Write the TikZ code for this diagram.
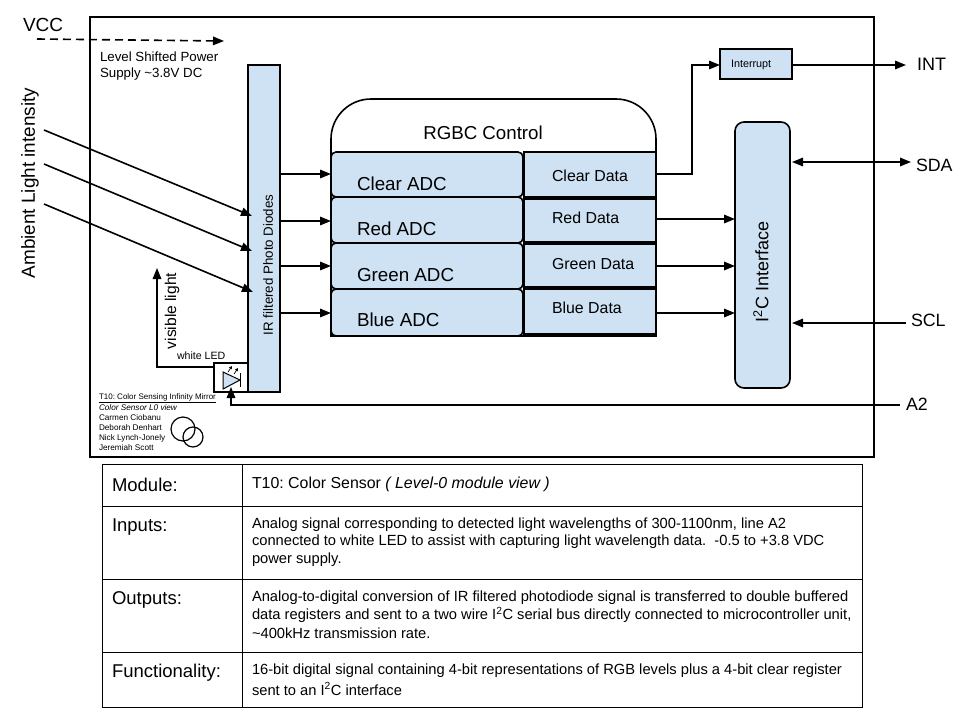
\documentclass[tikz,border=0pt]{standalone}
\usepackage{fontspec}
\setmainfont{Liberation Sans}
\usetikzlibrary{arrows.meta,calc}
\frenchspacing
\newcommand\fsz[1]{\fontsize{#1}{#1}\selectfont}
\definecolor{blk}{HTML}{CFE2F3}
\tikzset{
  x=1pt,y=-1pt,
  >={Triangle[length=11pt,width=8.5pt]},
  every node/.style={inner sep=0pt,outer sep=0pt},
  line/.style={line width=1.6pt,black},
  box/.style={draw=black,line width=1.6pt,fill=blk,anchor=north west},
  rbox/.style={box,rounded corners=5pt},
  cell/.style={draw=black,line width=0.9pt,anchor=north west},
  lab/.style={anchor=west,align=left,text=black},
  tab/.style={lab,font=\fsz{14.7},align=left},
  tabhead/.style={lab,font=\fsz{18.5}}
}
\begin{document}
\begin{tikzpicture}
\useasboundingbox[fill=white] (0,0) rectangle (960,720);
% outer frame
\node[draw=black,line width=1.6pt,anchor=north west,minimum width=784pt,minimum height=440pt] (frame) at (90,17) {};
% RGBC outline
\coordinate (rb) at (331,336);
\draw[line,fill=white] (rb) -- (331,139) arc[start angle=180,end angle=90,radius=40pt] -- (616,99) arc[start angle=90,end angle=0,radius=40pt] -- (656,336) -- cycle;
\node[font=\fsz{18.7}] (rgbc) at (483,133) {RGBC Control};
% ADCs
\node[rbox,minimum width=192pt,minimum height=45pt] (adc1) at (331,152) {};
\node[rbox,minimum width=192pt,minimum height=46pt] (adc2) at (331,197) {};
\node[rbox,minimum width=192pt,minimum height=46pt] (adc3) at (331,243) {};
\node[rbox,minimum width=192pt,minimum height=47pt] (adc4) at (331,289) {};
\node[lab,font=\fsz{18.8}] (t1) at (357,184) {Clear ADC};
\node[lab,font=\fsz{18.8}] (t2) at (357,229) {Red ADC};
\node[lab,font=\fsz{18.8}] (t3) at (357,275) {Green ADC};
\node[lab,font=\fsz{18.8}] (t4) at (357,320) {Blue ADC};
% data
\node[box,minimum width=132pt,minimum height=45pt] (dat1) at (524,152) {};
\node[box,minimum width=132pt,minimum height=43pt] (dat2) at (524,199) {};
\node[box,minimum width=132pt,minimum height=43pt] (dat3) at (524,244) {};
\node[box,minimum width=132pt,minimum height=45pt] (dat4) at (524,289) {};
\node[lab,font=\fsz{15.9}] (d1) at (552,176) {Clear Data};
\node[lab,font=\fsz{15.9}] (d2) at (552,218) {Red Data};
\node[lab,font=\fsz{15.9}] (d3) at (552,264) {Green Data};
\node[lab,font=\fsz{15.9}] (d4) at (552,308) {Blue Data};
% diodes
\node[box,minimum width=32pt,minimum height=327pt] (dio) at (248,65) {};
\node[rotate=90,font=\fsz{13.3}] (diot) at (268,265) {IR filtered Photo Diodes};
% interrupt
\node[box,minimum width=72pt,minimum height=30pt] (int) at (720,49) {};
\node[lab,font=\fsz{10.8}] (intt) at (731,65) {Interrupt};
% I2C
\node[box,rounded corners=9pt,minimum width=55pt,minimum height=266pt] (i2c) at (735,122) {};
\node[rotate=90,font=\fsz{18}] (i2ct) at (761,272) {I\textsuperscript{2}C Interface};
% LED
\node[draw=black,line width=1.6pt,fill=white,anchor=north west,minimum width=34pt,minimum height=29pt] (led) at (214,363) {};
\draw[line width=1pt,fill=blk] (223,372) -- (240,380) -- (223,389) -- cycle;
\draw[line width=1.2pt] (240.5,373) -- (240.5,387);
\draw[line width=0.7pt,-{Triangle[length=3pt,width=3pt]}] (228,372) -- (232,366);
\draw[line width=0.7pt,-{Triangle[length=3pt,width=3pt]}] (234,374) -- (238,368);
% external labels
\node[lab,font=\fsz{19}] (vcc) at (23,25) {VCC};
\node[lab,font=\fsz{18}] (intl) at (917,64) {INT};
\node[lab,font=\fsz{17.8}] (sda) at (916,165) {SDA};
\node[lab,font=\fsz{17.8}] (scl) at (911,320) {SCL};
\node[lab,font=\fsz{17.8}] (a2) at (906,404) {A2};
\node[rotate=90,font=\fsz{18.9}] (amb) at (30,183) {Ambient Light intensity};
\node[lab,font=\fsz{13.3},align=left] (lvl) at (100,66) {Level Shifted Power\\[2pt]Supply \textasciitilde3.8V DC};
\node[rotate=90,font=\fsz{15.6}] (vis) at (172,311) {visible light};
\node[lab,font=\fsz{10.6}] (wled) at (177,356) {white LED};
% credits
\node[lab,font=\fsz{8}] (c1) at (99,398) {\underline{T10: Color Sensing Infinity Mirror}};
\node[lab,font=\fsz{8.2}\itshape] (c2) at (99,408) {Color Sensor L0 view};
\node[lab,font=\fsz{8.2}] (c3) at (99,418) {Carmen Ciobanu};
\node[lab,font=\fsz{8.2}] (c4) at (99,428) {Deborah Denhart};
\node[lab,font=\fsz{8.2}] (c5) at (99,438) {Nick Lynch-Jonely};
\node[lab,font=\fsz{8.2}] (c6) at (99,448) {Jeremiah Scott};
\node[draw=black,line width=1.2pt,circle,minimum size=24pt] (o1) at (183,429) {};
\node[draw=black,line width=1.2pt,circle,minimum size=20pt] (o2) at (193,437) {};
% free ends
\coordinate (vs) at (37,39);
\coordinate (ve) at (224,41);
\coordinate (a1s) at (44,130);
\coordinate (a2s) at (44,164);
\coordinate (a3s) at (44,204);
\coordinate (a1e) at (252,216);
\coordinate (a2e) at (252,251);
\coordinate (a3e) at (253,292);
\coordinate (vise) at (157,268);
\coordinate (intend) at (906,65);
\coordinate (intout) at (792,65);
\coordinate (intin) at (720,65);
\coordinate (sdaend) at (911,162);
\coordinate (sdain) at (792,162);
\coordinate (sclstart) at (906,323);
\coordinate (sclin) at (792,323);
\coordinate (a2start) at (900,405);
\coordinate (int1) at (692,174);
% connectors
\draw[line,dash pattern=on 8pt off 5pt,->] (vs) -- (ve);
\draw[line,->] (a1s) -- (a1e);
\draw[line,->] (a2s) -- (a2e);
\draw[line,->] (a3s) -- (a3e);
\draw[line,->] ([yshift=0.5pt]dio.east |- adc1.west) -- ([yshift=0.5pt]adc1.west);
\draw[line,->] ([yshift=-1pt]dio.east |- adc2.west) -- ([yshift=-1pt]adc2.west);
\draw[line,->] (dio.east |- adc3.west) -- (adc3.west);
\draw[line,->] ([yshift=-0.5pt]dio.east |- adc4.west) -- ([yshift=-0.5pt]adc4.west);
\draw[line,->] (dat1.east |- int1) -- (int1) |- (intin);
\draw[line,->] (intout) -- (intend);
\draw[line,->] ([yshift=1.5pt]dat2.east) -- ([yshift=1.5pt]dat2.east -| i2c.west);
\draw[line,->] ([yshift=-0.5pt]dat3.east) -- ([yshift=-0.5pt]dat3.east -| i2c.west);
\draw[line,->] ([yshift=-1.5pt]dat4.east) -- ([yshift=-1.5pt]dat4.east -| i2c.west);
\draw[line,<->] (sdain) -- (sdaend);
\draw[line,->] (sclstart) -- (sclin);
\draw[line,->] (a2start) -| ([yshift=5pt]led.south);
\draw[line,->] ([yshift=-4pt]led.west |- led.north) -| (vise);
% table
\node[cell,minimum width=140pt,minimum height=42pt] (h1) at (102,464) {};
\node[cell,minimum width=620pt,minimum height=42pt] (r1) at (242,464) {};
\node[cell,minimum width=140pt,minimum height=73pt] (h2) at (102,506) {};
\node[cell,minimum width=620pt,minimum height=73pt] (r2) at (242,506) {};
\node[cell,minimum width=140pt,minimum height=73pt] (h3) at (102,579) {};
\node[cell,minimum width=620pt,minimum height=73pt] (r3) at (242,579) {};
\node[cell,minimum width=140pt,minimum height=55pt] (h4) at (102,652) {};
\node[cell,minimum width=620pt,minimum height=55pt] (r4) at (242,652) {};
\node[tabhead] (m) at (112,485) {Module:};
\node[tabhead] (i) at (112,527) {Inputs:};
\node[tabhead] (o) at (112,600) {Outputs:};
\node[tabhead] (f) at (112,673) {Functionality:};
\node[tab,font=\fsz{15.9}] (m2) at (252,484) {T10: Color Sensor \textit{( Level-0 module view )}};
\node[tab] (i2) at (252,525) {Analog signal corresponding to detected light wavelengths of 300-1100nm, line A2};
\node[tab] (i3) at (252,542) {connected to white LED to assist with capturing light wavelength data.\ \ -0.5 to +3.8 VDC};
\node[tab] (i4) at (252,560) {power supply.};
\node[tab] (o2t) at (252,598) {Analog-to-digital conversion of IR filtered photodiode signal is transferred to double buffered};
\node[tab] (o3t) at (252,615) {data registers and sent to a two wire I\textsuperscript{2}C serial bus directly connected to microcontroller unit,};
\node[tab] (o4t) at (252,633) {\textasciitilde400kHz transmission rate.};
\node[tab] (f2) at (252,671) {16-bit digital signal containing 4-bit representations of RGB levels plus a 4-bit clear register};
\node[tab] (f3) at (252,689) {sent to an I\textsuperscript{2}C interface};
\end{tikzpicture}
\end{document}
